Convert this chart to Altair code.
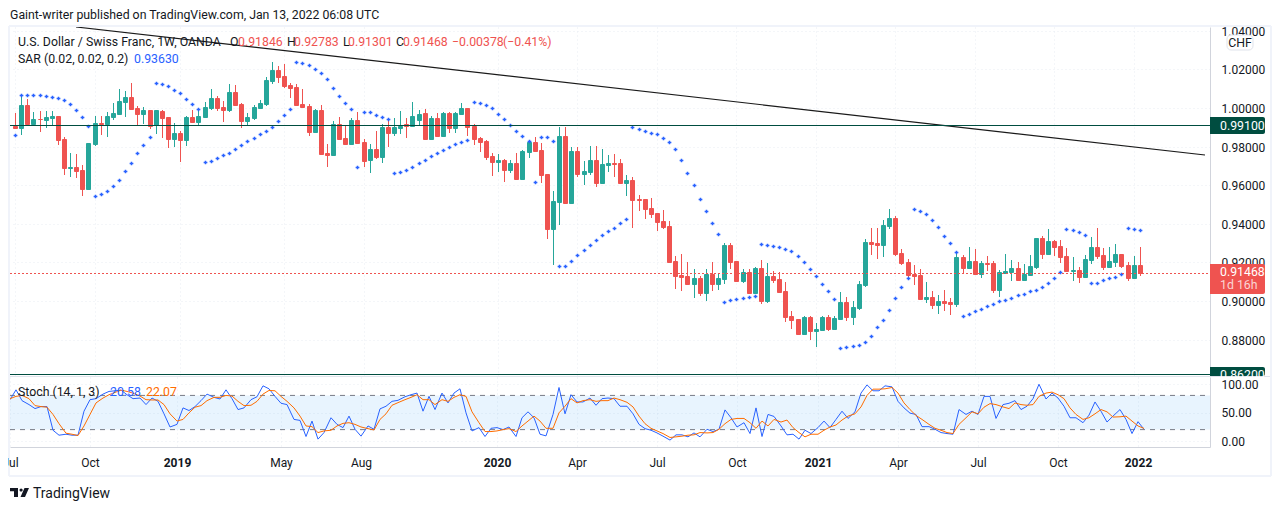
import altair as alt
import pandas as pd

UP, DOWN, BLUE, ORANGE, DARK, INK = "#26A69A", "#EF5350", "#2962FF", "#FF6D00", "#004D40", "#131722"
FONT = "Roboto"

direction = list(
    "RGRGRGGRRG" "RRGGRGGGGR" "RGRGRRGRGR" "GGGRRGRRGG" "GGGRRRRRRG" "RRGRRGRRGR"
    "GRGGRGGRGR" "GRGGRRRRRG" "RGRGGRRRGG" "RGRGGRGGRR" "GRRRRRRRRR" "RGRGRGGRRG"
    "RGRGRRRRRG" "RGGRGGRGGG" "RRGGRRRRRG" "RGRRGRGRGR" "RGGGRGGGRG" "RRRGRGGRRG" "GRRGR"
)
body_top = [
    9908,10017,10017,9945,9945,9955,9960,9960,9841,9695,
    9695,9680,9820,9924,9924,9960,9976,10038,10059,10059,
    10002,9991,9991,9988,9986,9955,9872,9872,9955,9955,
    9960,10007,10054,10054,10007,10085,10085,10022,9955,10007,
    10028,10147,10199,10199,10168,10121,10111,10022,10012,9991,
    9991,9768,9919,9919,9846,9939,9939,9825,9789,9789,
    9903,9903,9903,9908,9919,9960,9971,9976,9950,9950,
    9976,9976,9976,10002,10002,9908,9846,9830,9752,9732,
    9732,9716,9716,9778,9825,9825,9784,9659,9519,9856,
    9856,9778,9778,9674,9731,9731,9710,9716,9716,9716,
    9627,9627,9529,9529,9482,9456,9414,9388,9207,9134,
    9129,9118,9118,9139,9139,9118,9290,9290,9207,9149,
    9149,9170,9170,9129,9129,9113,9051,8921,8905,8916,
    8916,8853,8916,8916,8911,8994,8994,8968,9088,9306,
    9306,9301,9394,9430,9430,9249,9202,9140,9134,9020,
    9020,8999,8999,8994,9228,9228,9207,9207,9197,9197,
    9197,9150,9155,9171,9171,9140,9181,9327,9327,9311,
    9311,9285,9233,9160,9160,9218,9280,9280,9238,9207,
    9243,9243,9186,9186,9185,
]
body_bottom = [
    9899,9899,9919,9919,9941,9939,9950,9837,9687,9687,
    9676,9583,9583,9815,9919,9919,9955,9971,10033,9997,
    9971,9971,9908,9910,9950,9841,9841,9835,9835,9929,
    9929,9955,10002,10002,9991,9991,10017,9934,9934,9950,
    10002,10022,10142,10163,10116,10106,10017,10007,9877,9877,
    9763,9758,9758,9841,9815,9815,9820,9726,9732,9747,
    9747,9872,9872,9898,9908,9908,9939,9841,9841,9856,
    9856,9898,9898,9971,9903,9841,9825,9747,9721,9721,
    9680,9680,9633,9633,9773,9778,9654,9373,9373,9513,
    9508,9508,9659,9658,9669,9612,9612,9705,9710,9612,
    9612,9523,9523,9477,9451,9409,9383,9201,9129,9123,
    9087,9087,9040,9040,9087,9087,9113,9201,9103,9103,
    9040,9040,8999,8999,9108,9046,8916,8900,8827,8827,
    8843,8843,8849,8854,8854,8906,8916,8916,8963,9082,
    9295,9290,9290,9389,9243,9197,9134,9129,9010,9010,
    8979,8979,8989,8984,8984,9171,9171,9140,9140,9192,
    9056,9056,9145,9150,9108,9108,9134,9176,9243,9243,
    9280,9228,9155,9155,9124,9124,9212,9233,9176,9176,
    9202,9181,9119,9119,9147,
]
high = [
    9974,10069,10047,9981,9983,9986,9986,9960,9849,9768,
    9763,9706,9820,9960,9960,9981,10028,10100,10090,10132,
    10012,10007,9991,9991,9991,9955,9924,9882,9960,9991,
    10002,10033,10100,10064,10038,10126,10121,10028,9976,10017,
    10043,10163,10241,10220,10230,10132,10126,10100,10022,9997,
    10017,9815,9934,9955,9913,9950,9981,9841,9815,9882,
    9919,9939,9950,9986,9950,10033,9991,9997,9960,9976,
    9981,9981,9981,10028,10002,9919,9851,9835,9768,9763,
    9737,9732,9768,9784,9835,9851,9820,9659,9571,9903,
    9903,9799,9799,9726,9804,9804,9788,9757,9762,9736,
    9653,9643,9549,9529,9534,9456,9471,9414,9233,9243,
    9201,9165,9129,9165,9201,9144,9300,9300,9207,9165,
    9165,9175,9212,9196,9155,9149,9097,8947,8905,8921,
    8921,8884,8921,8927,8921,9046,9020,8999,9103,9321,
    9379,9379,9420,9477,9441,9269,9218,9186,9166,9098,
    9051,9030,9056,9015,9259,9238,9280,9269,9207,9233,
    9207,9160,9243,9212,9202,9192,9238,9327,9337,9373,
    9316,9316,9275,9228,9176,9238,9332,9379,9275,9280,
    9295,9243,9202,9233,9278,
]
low = [
    9896,9861,9919,9905,9874,9899,9905,9811,9654,9643,
    9640,9546,9583,9804,9861,9851,9939,9971,9955,9997,
    9913,9919,9893,9867,9846,9794,9799,9721,9804,9924,
    9908,9950,9991,9986,9929,9981,10012,9898,9908,9939,
    9997,10012,10126,10132,10106,10054,10012,10007,9856,9877,
    9758,9695,9758,9841,9809,9809,9820,9695,9664,9737,
    9716,9799,9856,9867,9846,9908,9908,9841,9841,9856,
    9856,9872,9872,9965,9856,9809,9773,9732,9648,9669,
    9617,9664,9633,9633,9742,9773,9612,9321,9186,9394,
    9508,9503,9643,9601,9653,9591,9612,9669,9643,9607,
    9544,9378,9466,9425,9430,9362,9373,9201,9061,9051,
    9082,9014,9025,8999,9051,9056,9087,9165,9097,9092,
    9035,9040,8983,8988,9092,9040,8890,8853,8822,8827,
    8796,8760,8849,8843,8849,8906,8895,8875,8953,9072,
    9238,9218,9228,9373,9233,9186,9114,9082,9005,8989,
    8958,8932,8947,8927,8968,9145,9171,9134,9119,9155,
    9041,9020,9145,9103,9108,9103,9134,9166,9218,9243,
    9233,9197,9155,9103,9093,9124,9192,9218,9160,9176,
    9176,9171,9103,9114,9130,
]
sar = [
    9861,10069,10069,10069,10069,10064,10059,10052,10042,10021,
    9990,9953,9906,9543,9553,9569,9595,9626,9673,9714,
    9766,9808,9849,10130,10125,10114,10093,10078,10047,10021,
    9995,9719,9725,9740,9756,9766,9787,9808,9829,9844,
    9865,9880,9901,9932,9964,9995,10239,10234,10223,10203,
    10182,10151,10104,10062,10026,9995,9693,9979,9979,9964,
    9953,9943,9662,9667,9678,9693,9714,9730,9751,9766,
    9782,9797,9813,9823,9834,10031,10026,10016,10000,9969,
    9943,9912,9880,9854,9829,9616,9849,9849,9829,9184,
    9184,9210,9241,9267,9293,9314,9340,9361,9381,9402,
    9423,9901,9891,9880,9870,9865,9844,9823,9787,9729,
    9662,9600,9527,9465,9402,9345,8997,9007,9013,9018,
    9023,9028,9298,9293,9283,9278,9272,9257,9231,9200,
    9168,9132,9086,9050,9013,8759,8764,8769,8774,8790,
    8821,8863,8904,8956,9018,9075,9122,9476,9465,9450,
    9418,9382,9335,9299,9252,8925,8935,8946,8961,8972,
    8987,8998,9008,9018,9029,9039,9050,9055,9075,9096,
    9122,9148,9372,9366,9356,9340,9091,9096,9107,9117,
    9127,9138,9377,9372,9366,
]
stoch_k = [
    72.5,89.8,70.8,63.9,56.9,60.4,60.4,18.9,10.2,11.9,
    10.2,10.2,52.3,72.5,74.3,82.3,87,88.1,89.3,81.2,
    74.3,75.4,63.9,75.4,69.6,47.7,24.6,29.2,58.1,53.5,
    60.4,70.8,82.3,76.6,73.7,89.8,74.3,55.2,58.1,72.5,
    77.7,96.8,91.6,78.3,66.2,63.9,37.9,36.2,7.9,35,
    3.3,14.8,40.8,29.2,23.5,43.7,20.6,8.5,26.4,20.6,
    56.4,61,69.6,71.4,77.7,81.2,84.1,52.3,78.3,55.2,
    84.1,66.8,84.1,91.6,49.4,17.7,23.5,7.9,22.3,23.5,
    20,24.6,7.9,40.8,51.2,40.8,11.9,9,46.6,93.9,
    47.7,81.2,68.5,68.5,75.4,62.7,74.3,75.4,74.3,61,
    61,47.7,29.2,21.7,18.9,14.2,8.5,1.6,10.8,10.8,
    7.3,14.2,7.3,20.6,16.6,20.6,54.6,40.8,24.6,32.1,
    13.1,58.1,7.9,46.6,43.1,26.4,10.8,11.9,3.3,18.9,
    13.1,23.5,35,23.5,37.9,52.3,39.6,51.2,84.1,98.5,
    88.1,88.1,96.8,95,69.6,58.1,48.9,46.6,25.2,25.2,
    20.6,14.8,13.1,11.9,55.2,46.6,52.3,46.6,78.3,78.3,
    39.6,63.9,66.2,70.8,55.2,61,74.3,99.6,73.7,84.1,
    75.4,61,40.8,40.8,32.1,45.4,68.5,52.3,33.3,43.7,
    55.2,37.9,13.1,33.9,20.58,
]
stoch_d = [
    74.3,78.3,80,74.3,62.1,60.4,59.3,46.6,30.4,13.7,
    11.9,9.6,26.4,46.6,66.8,75.4,81.2,85.2,89.3,87,
    84.1,78.9,72.5,72,72,63.9,47.7,35,37.9,49.4,
    59.3,62.1,70.8,76.6,76.6,80,78.9,69.6,62.1,62.7,
    69.6,82.3,88.7,88.1,78.3,69.6,58.1,43.7,26.4,25.2,
    14.8,17.7,18.9,26.4,31,32.1,29.2,24.6,21.7,19.4,
    37.9,47.7,62.7,67.3,72.5,76.6,81.2,72.5,72.5,63.9,
    72.5,69.6,76.6,81.2,78.3,51.2,32.1,16.6,16.6,17.7,
    20,21.7,16.6,26.4,35,43.7,35,22.3,22.3,49.4,
    61,74.3,66.8,70.8,72.5,69.6,70.8,70.8,75.4,72.5,
    67.9,59.8,43.7,30.4,22.3,17.7,13.1,6.2,7.3,8.5,
    10.2,10.8,14.8,14.2,14.8,20.6,30.4,37.9,39.6,39.6,
    32.1,22.3,35,26.4,37.9,33.3,36.8,23.5,14.8,7.3,
    11.9,11.9,18.9,24.6,28.1,36.8,43.7,47.7,59.8,80,
    91,91,91.6,93.9,84.1,66.8,55.2,44.8,37.9,29.2,
    22.3,18.9,14.8,13.1,29.2,40.8,51.2,47.7,59.3,65.6,
    63.9,59.8,56.9,66.8,63.9,62.7,63.9,78.3,84.1,85.8,
    81.2,74.3,58.1,46.6,37.9,40.8,47.7,55.2,51.2,42,
    42.5,43.7,35,26.4,22.07,
]
tick_dates = [(2018,7,2),(2018,10,1),(2019,1,7),(2019,5,6),(2019,8,5),(2020,1,6),(2020,4,6),
              (2020,7,6),(2020,10,5),(2021,1,4),(2021,4,5),(2021,7,5),(2021,10,4),(2022,1,3)]
price_ticks = [0.88,0.90,0.92,0.94,0.96,0.98,1.00,1.02,1.04]
trend_dates = ["2018-09-10T00:00:00", "2022-03-25T15:00:00"]
trend_prices = [1.0420, 0.9755]

dates = pd.date_range("2018-07-02", periods=len(direction), freq="7D")
df = pd.DataFrame({
    "date": dates, "dir": direction,
    "top": [v/10000 for v in body_top], "bottom": [v/10000 for v in body_bottom],
    "high": [v/10000 for v in high], "low": [v/10000 for v in low],
    "sar": [v/10000 for v in sar], "k": stoch_k, "d": stoch_d,
})
trend = pd.DataFrame({"date": pd.to_datetime(trend_dates), "p": trend_prices})

W, H1, H2 = 1200, 349, 70
xscale = alt.Scale(domain=[alt.DateTime(year=2018, month=7, date=1, hours=21),
                           alt.DateTime(year=2022, month=3, date=25, hours=15)], round=True, nice=False)
yscale = alt.Scale(domain=[0.86117, 1.0420], round=True, nice=False)
sscale = alt.Scale(domain=[-10.5, 112.3], nice=False)
tick_vals = [alt.DateTime(year=y, month=m, date=d) for y, m, d in tick_dates]
GRID = dict(grid=True, gridColor="#E9ECF3", gridDash=[1, 3], gridOpacity=1)
x_plain = alt.X("date:T", scale=xscale, title=None)
x_grid = alt.X("date:T", scale=xscale, title=None,
               axis=alt.Axis(values=tick_vals, labels=False, ticks=False, domain=False, **GRID))
colors = alt.Scale(domain=["G", "R"], range=[UP, DOWN])


def py(field):
    return alt.Y(field, scale=yscale, title=None)


def pd_y(v):
    return alt.Y(datum=v, scale=yscale, title=None)


def text(s, x, y, color=INK, size=12.3, align="left", **kw):
    return alt.Chart(df.head(1)).mark_text(text=s, color=color, fontSize=size, font=FONT, align=align,
                                           baseline="middle", **kw).encode(x=alt.value(x), y=alt.value(y))


def hline(x, y, y2=None, x2=None, color="#F0F3FA", width=2):
    enc = {"x": alt.value(x), "y": alt.value(y)}
    if x2 is not None:
        enc["x2"] = alt.value(x2)
    if y2 is not None:
        enc["y2"] = alt.value(y2)
    return alt.Chart(df.head(1)).mark_rule(color=color, strokeWidth=width).encode(**enc)


def badge(top, bottom, color):
    return alt.Chart(df.head(1)).mark_rect(color=color, cornerRadiusTopRight=2, cornerRadiusBottomRight=2).encode(
        x=alt.value(1200), x2=alt.value(1255), y=pd_y(top), y2=alt.Y2(datum=bottom))


def level(v, color, **kw):
    return alt.Chart(df.head(1)).mark_rule(color=color, stroke=color, strokeWidth=1, yOffset=0.5, **kw).encode(
        x=alt.value(0), x2=alt.value(W), y=pd_y(v))


price_axis = alt.Axis(values=price_ticks, format=".5f", orient="right", title=None, ticks=False, labelPadding=11,
                      labelColor=INK, labelFontSize=12, labelFont=FONT, labelOverlap=False,
                      domainColor="#D1D4DC", **GRID)

wicks = alt.Chart(df).mark_rule(strokeWidth=1, xOffset=0.5, clip=True).encode(
    x=x_grid, y=alt.Y("high:Q", scale=yscale, axis=price_axis, title=None), y2="low:Q",
    color=alt.Color("dir:N", scale=colors, legend=None))
bodies = alt.Chart(df).mark_bar(size=4, strokeWidth=1, xOffset=0.5, yOffset=0.5, y2Offset=0.5, clip=True).encode(
    x=x_plain, y=py("top:Q"), y2="bottom:Q",
    color=alt.Color("dir:N", scale=colors, legend=None),
    stroke=alt.Stroke("dir:N", scale=colors, legend=None))
sar_pts = alt.Chart(df).mark_point(shape="cross", filled=True, size=14, opacity=1, color=BLUE, clip=True,
                                   xOffset=0.5, yOffset=0.5).encode(x=x_plain, y=py("sar:Q"))
trend_line = alt.Chart(trend).mark_line(color="#1A1A1A", strokeWidth=1.2, clip=True).encode(
    x=x_plain, y=py("p:Q"))
chf_box = alt.Chart(df.head(1)).mark_rect(fill="white", stroke="#E0E3EB", cornerRadius=4).encode(
    x=alt.value(1217), x2=alt.value(1243), y=alt.value(8), y2=alt.value(23))

top = alt.layer(
    hline(-1, -1, y2=449), hline(1261, -1, y2=449), hline(-1, -1, x2=1261), hline(-1, 449, x2=1261),
    wicks, bodies, sar_pts, trend_line, level(0.991, DARK), level(0.862, DARK), level(0.91468, DOWN, strokeDash=[2, 2]),
    hline(0, 349.5, x2=1260, color="#E0E3EB", width=1),
    badge(0.9954, 0.9866, DARK), badge(0.8660, 0.86117, DARK), badge(0.9191, 0.9035, DOWN), chf_box,
    text("CHF", 1230, 16, align="center"),
    text("0.99100", 1210, 98.5, color="white"),
    text("0.86200", 1210, 347.5, color="white"),
    text("0.91468", 1210, 245, color="white"),
    text("1d 16h", 1210, 258, color="#FBD5D4"),
    text("Gaint-writer published on TradingView.com, Jan 13, 2022 06:08 UTC", 0, -12.5),
    text("U.S. Dollar / Swiss Franc, 1W, OANDA", 8, 15),
    text("O", 220, 15), text("0.91846", 228, 15, color=DOWN),
    text("H", 277, 15), text("0.92783", 284, 15, color=DOWN),
    text("L", 333, 15), text("0.91301", 338, 15, color=DOWN),
    text("C", 386, 15), text("0.91468", 393, 15, color=DOWN),
    text("\u22120.00378", 442, 15, color=DOWN), text("(\u22120.41%)", 493, 15, color=DOWN),
    text("SAR (0.02, 0.02, 0.2)", 8, 32), text("0.93630", 124, 32, color=BLUE),
).properties(width=W, height=H1)

time_axis = alt.Axis(values=tick_vals, title=None, ticks=False, labelPadding=10, labelColor=INK, labelFontSize=12,
                     labelFont=FONT, labelOverlap=False, labelFlush=False, domainColor="#D1D4DC",
                     labelExpr="month(datum.value)==0 ? timeFormat(datum.value,'%Y') : timeFormat(datum.value,'%b')",
                     labelFontWeight=alt.expr("month(datum.value)==0 ? 'bold' : 'normal'"), **GRID)
stoch_axis = alt.Axis(values=[0, 50, 100], tickCount=3, format=".2f", orient="right", title=None, ticks=False,
                      labelPadding=11, labelColor=INK, labelFontSize=12, labelFont=FONT, labelOverlap=False,
                      domainColor="#D1D4DC", **GRID)
band = alt.Chart(df.head(1)).mark_rect(color="#2196F3", opacity=0.1).encode(
    x=alt.value(0), x2=alt.value(W), y=alt.Y(datum=80, scale=sscale, axis=stoch_axis, title=None), y2=alt.Y2(datum=20))
k_line = alt.Chart(df).mark_line(color=BLUE, strokeWidth=1, clip=True).encode(
    x=alt.X("date:T", scale=xscale, axis=time_axis, title=None),
    y=alt.Y("k:Q", scale=sscale, axis=stoch_axis, title=None))
d_line = alt.Chart(df).mark_line(color=ORANGE, strokeWidth=1, clip=True).encode(
    x=x_plain, y=alt.Y("d:Q", scale=sscale, axis=stoch_axis, title=None))


def dash(v):
    return alt.Chart(df.head(1)).mark_rule(color="#787B86", strokeWidth=1, strokeDash=[5, 5]).encode(
        x=alt.value(0), x2=alt.value(W), y=alt.Y(datum=v, scale=sscale, axis=stoch_axis, title=None))


cover = alt.Chart(df.head(1)).mark_rect(color="white").encode(
    x=alt.value(1201), x2=alt.value(1258), y=alt.value(0), y2=alt.value(3))
logo_path = ("M-.95 -.45H-.15V.45H-.55V-.12H-.95Z"
             "M0 -.25a.16.16 0 1 0 .32 0a.16.16 0 1 0 -.32 0Z"
             "M.5 -.45H.95L.55 .45H.1Z")
logo = alt.Chart(df.head(1)).mark_point(shape=logo_path, filled=True, size=400, opacity=1, color=INK).encode(
    x=alt.value(9.5), y=alt.value(115.5))

bottom = alt.layer(
    band, dash(80), dash(20), k_line, d_line, cover,
    text("Stoch (14, 1, 3)", 8, 15), text("20.58", 100, 15, color=BLUE), text("22.07", 136, 15, color=ORANGE),
    logo, text("TradingView", 23, 117, size=14),
).properties(width=W, height=H2)

chart = alt.vconcat(top, bottom, spacing=1, bounds="flush").resolve_scale(
    x="independent", y="independent", color="independent", stroke="independent"
).properties(padding={"left": -7, "top": 0, "right": 0, "bottom": 0}, background="white").configure_view(stroke=None)

chart.save("out.html", embed_options={"renderer": "svg", "actions": False})
